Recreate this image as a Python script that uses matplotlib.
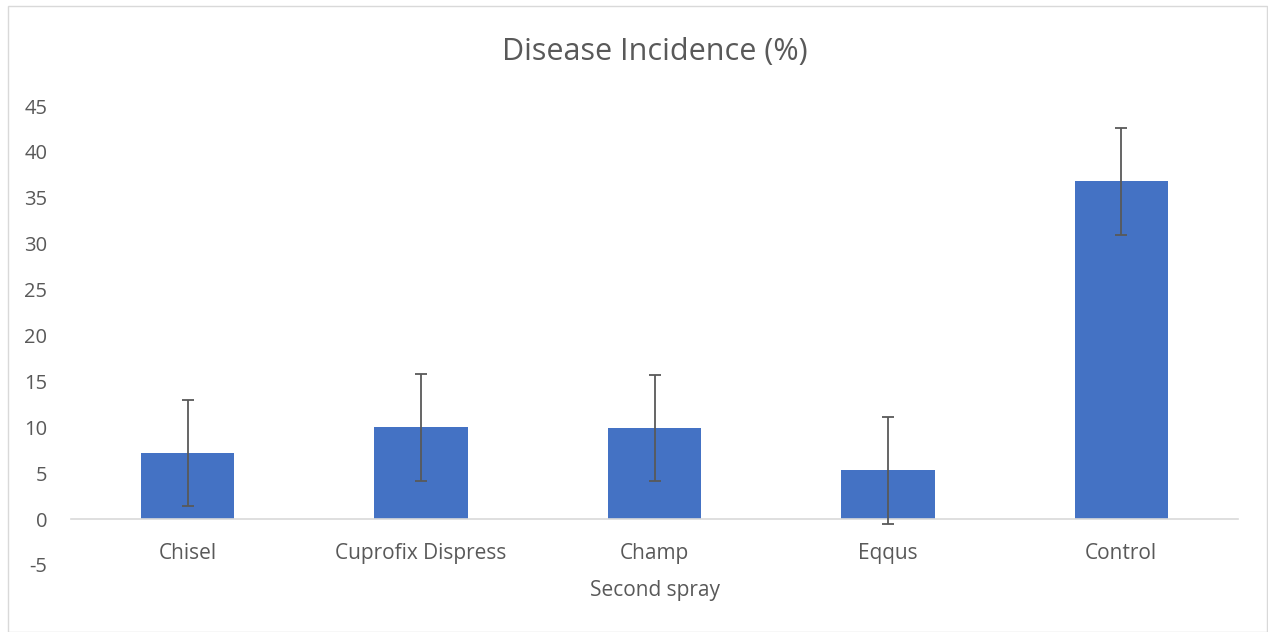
import matplotlib
matplotlib.use("Agg")
import matplotlib.pyplot as plt
from matplotlib.patches import Rectangle

categories = ["Chisel", "Cuprofix Dispress", "Champ", "Eqqus", "Control"]
values = [7.2, 10.0, 9.9, 5.3, 36.8]
errors = [5.8, 5.8, 5.8, 5.8, 5.8]
yticks = [-5, 0, 5, 10, 15, 20, 25, 30, 35, 40, 45]

plt.rcParams['font.family'] = ['Open Sans', 'DejaVu Sans']
txt = '#595959'

fig = plt.figure(figsize=(12.68, 6.32), dpi=100)
ax = fig.add_axes([71/1268, 1 - 565/632, (1238 - 71)/1268, (565 - 106)/632])

x = list(range(len(categories)))
ax.bar(x, values, width=0.4, color='#4472C4', zorder=2)
ax.errorbar(x, values, yerr=errors, fmt='none', ecolor=txt, elinewidth=1.3,
            capsize=4.5, capthick=1.3, zorder=3)

ax.set_xlim(-0.5, len(categories) - 0.5)
ax.set_ylim(-5, 45)
ax.set_yticks(yticks)
ax.set_yticklabels([str(t) for t in yticks])
ax.set_xticks(x)
ax.set_xticklabels(categories)

for s in ['top', 'right', 'left']:
    ax.spines[s].set_visible(False)
ax.spines['bottom'].set_position(('data', 0))
ax.spines['bottom'].set_color('#d9d9d9')
ax.spines['bottom'].set_linewidth(1.2)

ax.tick_params(axis='y', length=0, labelsize=14.5, colors=txt, pad=17)
ax.tick_params(axis='x', length=0, labelsize=15, colors=txt, pad=17)

ax.set_xlabel("Second spray", fontsize=15, color=txt, labelpad=12)
fig.text((71 + 1238) / 2 / 1268, 1 - 52/632, "Disease Incidence (%)",
         ha='center', va='center', fontsize=22, color=txt)

fig.patches.append(Rectangle((8/1268, 0), 1 - 8/1268 - 1/1268, 1 - 6/632,
                             transform=fig.transFigure, fill=False,
                             edgecolor='#d9d9d9', linewidth=1))

fig.savefig("out.png", dpi=100, facecolor='white')
